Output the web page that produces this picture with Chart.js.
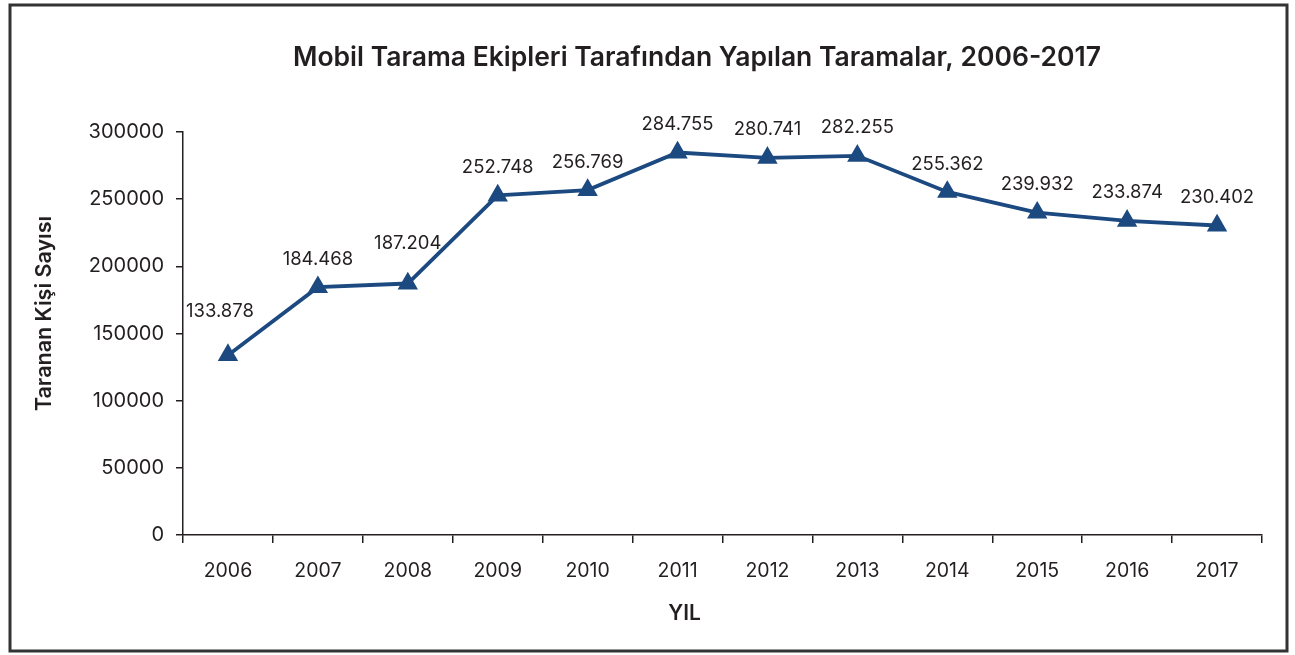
<!DOCTYPE html>
<html>
<head>
<meta charset="utf-8">
<script src="https://cdn.jsdelivr.net/npm/chart.js@4/dist/chart.umd.min.js"></script>
<style>
  html, body { margin: 0; padding: 0; background: #fff; }
  #wrap { position: relative; width: 1295px; height: 655px; }
</style>
</head>
<body>
<div id="wrap"><canvas id="myChart"></canvas></div>
<script>
// data
const years = ["2006", "2007", "2008", "2009", "2010", "2011", "2012", "2013", "2014", "2015", "2016", "2017"];
const screened = [133878, 184468, 187204, 252748, 256769, 284755, 280741, 282255, 255362, 239932, 233874, 230402];
const yTicks = [0, 50000, 100000, 150000, 200000, 250000, 300000];

const titleText = "Mobil Tarama Ekipleri Tarafından Yapılan Taramalar, 2006-2017";
const yTitle = "Taranan Kişi Sayısı";
const xTitle = "YIL";
const FONT = "Inter, 'Noto Sans', sans-serif";
const lineColor = "#1c4a80";
const inkColor = "#231f20";

const fmt = (v) => {
  const k = Math.floor(v / 1000);
  const r = String(v % 1000).padStart(3, "0");
  return k + "." + r;
};

// frame, titles and point labels
const decorate = {
  id: "decorate",
  afterDraw(chart) {
    const ctx = chart.ctx;
    const area = chart.chartArea;
    ctx.save();
    ctx.strokeStyle = "#333";
    ctx.lineWidth = 3;
    ctx.strokeRect(10, 5, 1277, 646);

    ctx.fillStyle = inkColor;
    ctx.textAlign = "center";
    ctx.textBaseline = "middle";
    ctx.font = "600 26.5px " + FONT;
    ctx.fillText(titleText, 697, 58);

    ctx.font = "600 21px " + FONT;
    ctx.fillText(xTitle, (area.left + area.right) / 2 - 38, 614);

    ctx.save();
    ctx.font = "600 21.5px " + FONT;
    ctx.translate(45, (area.top + area.bottom) / 2 - 20);
    ctx.rotate(-Math.PI / 2);
    ctx.fillText(yTitle, 0, 0);
    ctx.restore();

    ctx.font = "18.5px " + FONT;
    const meta = chart.getDatasetMeta(0);
    meta.data.forEach((pt, i) => {
      let dy = 28;
      let dx = 0;
      if (i === 0) { dy = 44; dx = -8; }
      if (i === 2) { dy = 40; }
      ctx.fillText(fmt(screened[i]), pt.x + dx, pt.y - dy);
    });
    ctx.restore();
  },
};

const chart = new Chart(document.getElementById("myChart"), {
  type: "line",
  data: {
    labels: years,
    datasets: [
      {
        data: screened,
        borderColor: lineColor,
        backgroundColor: lineColor,
        borderWidth: 3.8,
        pointStyle: "triangle",
        pointRadius: 8,
        pointHoverRadius: 8,
        tension: 0,
      },
    ],
  },
  options: {
    responsive: true,
    maintainAspectRatio: false,
    animation: false,
    layout: {
      padding: { top: 132, right: 33, left: 0, bottom: 0 },
    },
    scales: {
      x: {
        offset: true,
        grid: {
          offset: true,
          drawOnChartArea: false,
          drawTicks: true,
          tickLength: 8,
          color: inkColor,
          lineWidth: 1.5,
        },
        border: { display: true, color: inkColor, width: 1.5 },
        ticks: {
          color: inkColor,
          font: { family: FONT, size: 19.5 },
          padding: 16,
          maxRotation: 0,
        },
        afterFit(scale) {
          scale.height = 120;
        },
      },
      y: {
        min: 0,
        max: 300000,
        afterBuildTicks(scale) {
          scale.ticks = yTicks.map((v) => ({ value: v }));
        },
        grid: {
          drawOnChartArea: false,
          drawTicks: true,
          tickLength: 7,
          color: inkColor,
          lineWidth: 1.5,
        },
        border: { display: true, color: inkColor, width: 1.5 },
        ticks: {
          color: inkColor,
          font: { family: FONT, size: 20 },
          padding: 12,
          callback: (v) => String(v),
        },
        afterFit(scale) {
          scale.width = 183;
        },
      },
    },
    plugins: {
      legend: { display: false },
      title: { display: false },
      tooltip: { enabled: false },
    },
  },
  plugins: [decorate],
});
</script>
</body>
</html>
